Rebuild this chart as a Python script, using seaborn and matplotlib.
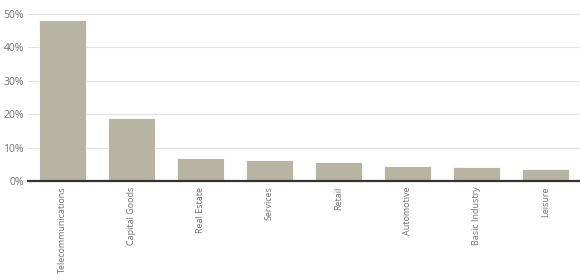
import matplotlib
matplotlib.use("Agg")
import matplotlib.pyplot as plt
import seaborn as sns
import pandas as pd
from matplotlib.ticker import FuncFormatter

categories = ["Telecommunications", "Capital Goods", "Real Estate", "Services",
              "Retail", "Automotive", "Basic Industry", "Leisure"]
values = [48.2, 18.9, 6.9, 6.4, 5.7, 4.5, 4.1, 3.5]

sns.set_theme(style="white")
plt.rcParams['font.family'] = ['Open Sans', 'DejaVu Sans']

df = pd.DataFrame({"sector": categories, "share": values})

fig = plt.figure(figsize=(5.8, 2.8), dpi=100)
ax = fig.add_axes([28/580, 99/280, 552/580, 167/280])
sns.barplot(data=df, x="sector", y="share", color="#b7b4a2", width=0.667,
            edgecolor="white", linewidth=0.6, ax=ax, saturation=1)
ax.set_ylim(0, 50)
ax.set_xlim(-0.5, len(categories) - 0.5)
ax.set_yticks([0, 10, 20, 30, 40, 50])
ax.yaxis.set_major_formatter(FuncFormatter(lambda v, p: f"{int(v)}%"))
ax.yaxis.grid(True, color="#e3e3e3", linewidth=0.8)
ax.set_axisbelow(True)
for s in ["top", "right", "left"]:
    ax.spines[s].set_visible(False)
ax.spines["bottom"].set_color("#333333")
ax.spines["bottom"].set_linewidth(1.6)
ax.set_xlabel("")
ax.set_ylabel("")
ax.tick_params(axis="y", length=0, pad=3, labelsize=7.5, labelcolor="#707070")
ax.tick_params(axis="x", length=0, pad=4, labelsize=6.5, labelcolor="#707070")
plt.setp(ax.get_xticklabels(), rotation=90, va="top", ha="center")
fig.savefig("out.png", dpi=100)
